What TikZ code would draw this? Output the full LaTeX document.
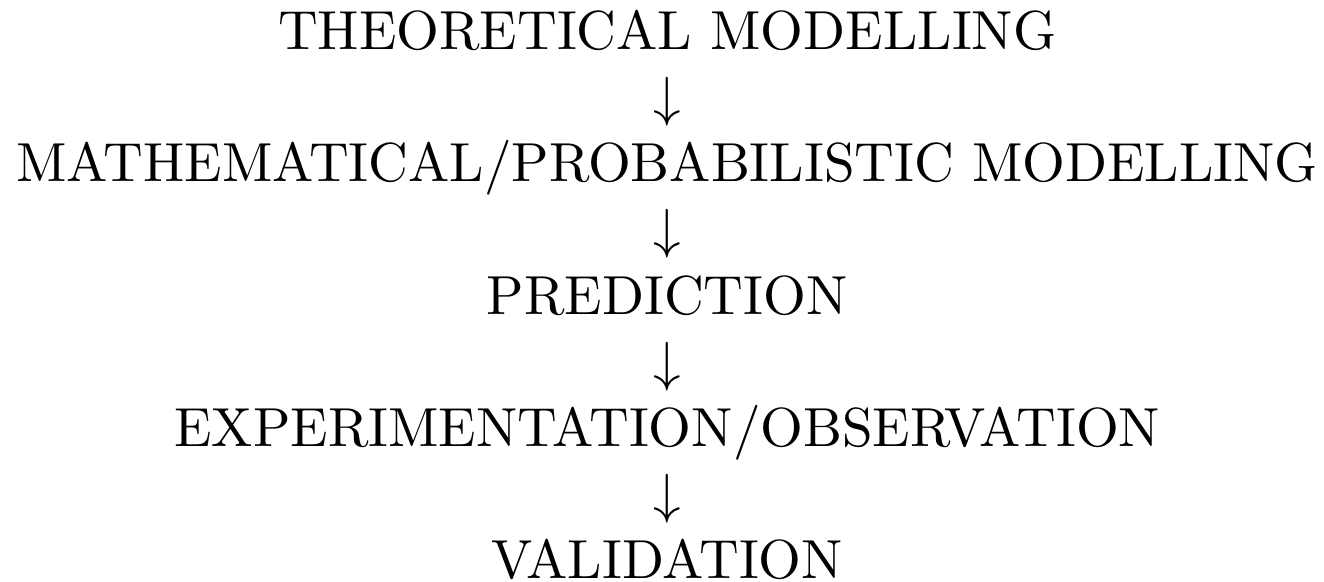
\documentclass[tikz,border=0pt]{standalone}
\begin{document}
\begin{tikzpicture}[x=1pt,y=1pt,
  line/.style={anchor=base,inner sep=0pt,outer sep=0pt,font=\rmfamily},
  arr/.style={anchor=base,inner sep=0pt,outer sep=0pt}]
\useasboundingbox (0,0) rectangle (240.7,-105.8);
\node[line] (t1) at (121.3,-9.09) {THEORETICAL MODELLING};
\node[arr]  (a1) at (121.3,-21.09) {$\downarrow$};
\node[line] (t2) at (121.3,-33.09) {MATHEMATICAL/PROBABILISTIC MODELLING};
\node[arr]  (a2) at (121.3,-45.09) {$\downarrow$};
\node[line] (t3) at (121.3,-57.09) {PREDICTION};
\node[arr]  (a3) at (121.3,-69.09) {$\downarrow$};
\node[line] (t4) at (121.3,-81.09) {EXPERIMENTATION/OBSERVATION};
\node[arr]  (a4) at (121.3,-93.09) {$\downarrow$};
\node[line] (t5) at (121.3,-105.09) {VALIDATION};
\end{tikzpicture}
\end{document}
